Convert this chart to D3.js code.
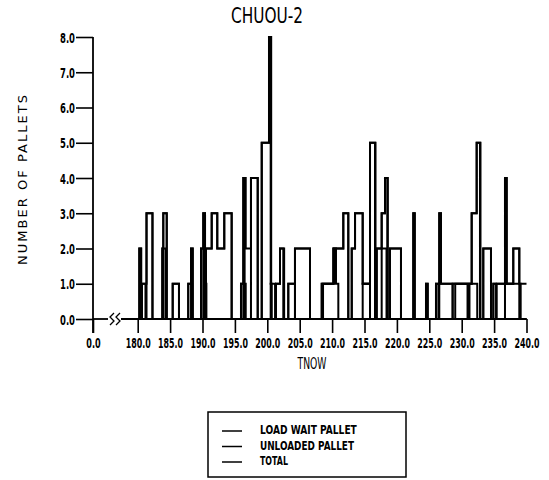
<!DOCTYPE html>
<html>
<head>
<meta charset="utf-8">
<script src="https://cdn.jsdelivr.net/npm/d3@7/dist/d3.min.js"></script>
<style>
  html, body { margin: 0; padding: 0; background: #fff; }
  svg { display: block; }
  text { font-family: "DejaVu Sans", sans-serif; fill: #000; }
</style>
</head>
<body>
<svg id="chart" width="549" height="480"></svg>
<script>
// ---- data ----
const title = "CHUOU-2";
const xTicks = [0, 180, 185, 190, 195, 200, 205, 210, 215, 220, 225, 230, 235, 240];
const yTicks = [0, 1, 2, 3, 4, 5, 6, 7, 8];
const seriesNames = ["LOAD WAIT PALLET", "UNLOADED PALLET", "TOTAL"];

// step series: [time, value] (value holds until next time)
const total = [
  [180.0,0],[180.25,2],[180.5,0],[180.66,1],[181.36,3],[182.28,0],
  [183.8,2],[183.95,3],[184.48,0],[185.4,1],[186.37,0],
  [187.8,1],[188.23,2],[188.49,0],[189.77,2],[190.12,3],[190.39,1],[190.54,2],
  [191.42,3],[192.28,2],[193.36,3],[194.5,0],
  [195.94,1],[196.3,4],[196.67,2],[197.48,4],[198.52,0],[199.14,5],[200.26,8],
  [200.52,1],[200.68,0],[201.34,1],[201.96,2],[202.47,0],
  [203.24,1],[204.27,2],[206.59,0],[208.4,1],[210.19,2],[211.73,3],[212.5,0],
  [213.03,2],[213.54,3],[214.72,1],[215.85,5],[216.62,0],[216.88,2],[217.65,3],
  [218.16,4],[218.52,0],[218.93,2],[220.63,0],[222.53,3],[222.75,0],
  [224.49,1],[224.75,0],[226.03,1],[226.54,3],[226.8,1],[231.54,3],[232.31,5],
  [232.82,0],[233.33,2],[234.52,0],[234.88,1],[236.68,4],[236.94,1],
  [237.96,2],[238.89,1],[240.0,1]
];
const loadWait = [
  [180.0,0],[180.66,1],[181.2,0],[183.8,2],[184.3,0],[187.8,1],[188.4,0],
  [189.77,2],[190.39,1],[190.6,0],[195.94,1],[196.67,0],[200.52,1],[201.2,0],
  [203.24,1],[204.27,0],[208.4,1],[210.3,2],[210.6,1],[210.96,0],
  [214.72,1],[215.85,0],[216.88,2],[218.4,0],[226.03,1],[226.4,0],
  [228.6,1],[230.9,0],[231.2,1],[232.4,0],[234.88,1],[235.3,0],
  [236.68,1],[237.96,2],[238.89,0],[240.0,0]
];
const unloaded = [
  [180.0,0],[180.25,2],[180.55,0],[181.36,3],[182.28,0],[183.95,3],[184.48,0],
  [185.4,1],[186.37,0],[188.23,2],[188.49,0],[190.12,3],[190.39,0],
  [190.54,2],[191.42,3],[192.28,2],[193.36,3],[194.5,0],[196.3,4],[196.5,0],
  [197.48,4],[198.52,0],[199.14,5],[200.26,8],[200.6,0],[201.34,1],[201.96,2],
  [202.6,0],[204.27,2],[206.59,0],[208.6,1],[210.19,2],[211.73,3],[212.5,0],
  [213.03,2],[213.54,3],[214.72,1],[215.85,5],[216.7,0],[217.65,3],[218.16,4],
  [218.6,0],[218.93,2],[220.63,0],[222.53,3],[222.75,0],[224.49,1],[224.75,0],
  [226.54,3],[226.8,1],[228.6,0],[229.0,1],[231.54,3],[232.31,5],[232.9,0],
  [233.33,2],[234.52,0],[235.4,1],[236.68,4],[236.94,1],[239.1,0],[240.0,0]
];
const seriesData = [loadWait, unloaded, total];

// ---- layout ----
const svg = d3.select("#chart");
const x = d3.scaleLinear().domain([0, 180, 240]).range([93, 137.7, 526.5]);
const y = d3.scaleLinear().domain([0, 8]).range([319, 37]);
const fmt = d3.format(".1f");

// horizontally squeeze a text to a target width (narrow plotter lettering)
function squeeze(sel, targetFn) {
  sel.each(function (d, i) {
    const t = d3.select(this);
    const w = this.getComputedTextLength();
    const target = typeof targetFn === "function" ? targetFn(d, i) : targetFn;
    const k = w > 0 ? target / w : 1;
    const x0 = +t.attr("x") || 0, y0 = +t.attr("y") || 0;
    const prev = t.attr("transform") || "";
    t.attr("x", 0).attr("y", 0)
     .attr("transform", `${prev} translate(${x0},${y0}) scale(${k},1)`);
  });
}

// title
svg.append("text").attr("x", 267).attr("y", 23).attr("text-anchor", "middle")
  .style("font-size", "21px").text(title).call(squeeze, 72);

// y axis
const yAxis = svg.append("g").attr("transform", `translate(${x(0)},0)`)
  .call(d3.axisLeft(y).tickValues(yTicks).tickSize(17).tickPadding(1).tickFormat(fmt));
yAxis.select(".domain").remove();
yAxis.selectAll(".tick line").attr("stroke", "#000").attr("stroke-width", 1.6);
yAxis.selectAll(".tick text").style("font-size", "14px").style("font-weight", "bold")
  .attr("dy", "0.36em").call(squeeze, 15);
svg.append("line").attr("x1", x(0)).attr("x2", x(0)).attr("y1", y(8)).attr("y2", y(0) + 14)
  .attr("stroke", "#000").attr("stroke-width", 1.8);

// x axis
const xAxis = svg.append("g").attr("transform", `translate(0,${y(0)})`)
  .call(d3.axisBottom(x).tickValues(xTicks).tickSize(14).tickPadding(5).tickFormat(fmt));
xAxis.select(".domain").remove();
xAxis.selectAll(".tick line").attr("stroke", "#000").attr("stroke-width", 1.6);
xAxis.selectAll(".tick text").style("font-size", "14px").style("font-weight", "bold")
  .call(squeeze, d => fmt(d).length * 5.3 - 1.5);

// axis baseline with break
svg.append("line").attr("x1", x(0)).attr("x2", 108).attr("y1", y(0)).attr("y2", y(0))
  .attr("stroke", "#000").attr("stroke-width", 1.8);
svg.append("line").attr("x1", 121).attr("x2", x(240)).attr("y1", y(0)).attr("y2", y(0))
  .attr("stroke", "#000").attr("stroke-width", 1.8);
[110, 116].forEach(bx => {
  svg.append("path")
    .attr("d", `M${bx + 4},${y(0) - 6} L${bx},${y(0) - 2} L${bx + 4},${y(0) + 2} L${bx},${y(0) + 6}`)
    .attr("fill", "none").attr("stroke", "#000").attr("stroke-width", 1.3);
});

// axis titles
svg.append("text").attr("x", 312).attr("y", 369).attr("text-anchor", "middle")
  .style("font-size", "16px").text("TNOW").call(squeeze, 29);
svg.append("text").attr("transform", "translate(27,180) rotate(-90)").attr("text-anchor", "middle")
  .style("font-size", "13px").attr("textLength", 170).attr("lengthAdjust", "spacing")
  .text("NUMBER OF PALLETS");

// series step lines
const line = d3.line().x(d => x(d[0])).y(d => y(d[1])).curve(d3.curveStepAfter);
svg.append("g").selectAll("path").data(seriesData).join("path")
  .attr("d", line).attr("fill", "none").attr("stroke", "#000")
  .attr("stroke-width", 2).attr("stroke-linejoin", "miter");

// legend
const legendLens = [97, 94, 28];
const lg = svg.append("g");
lg.append("rect").attr("x", 208).attr("y", 412).attr("width", 198).attr("height", 65)
  .attr("fill", "none").attr("stroke", "#000").attr("stroke-width", 1.5);
seriesNames.forEach((n, i) => {
  const ly = 431 + i * 15.5;
  lg.append("line").attr("x1", 222).attr("x2", 242).attr("y1", ly).attr("y2", ly)
    .attr("stroke", "#000").attr("stroke-width", 1.5);
  lg.append("text").attr("x", 260).attr("y", ly + 3).style("font-size", "12px")
    .style("font-weight", "bold").text(n).call(squeeze, legendLens[i]);
});
</script>
</body>
</html>
